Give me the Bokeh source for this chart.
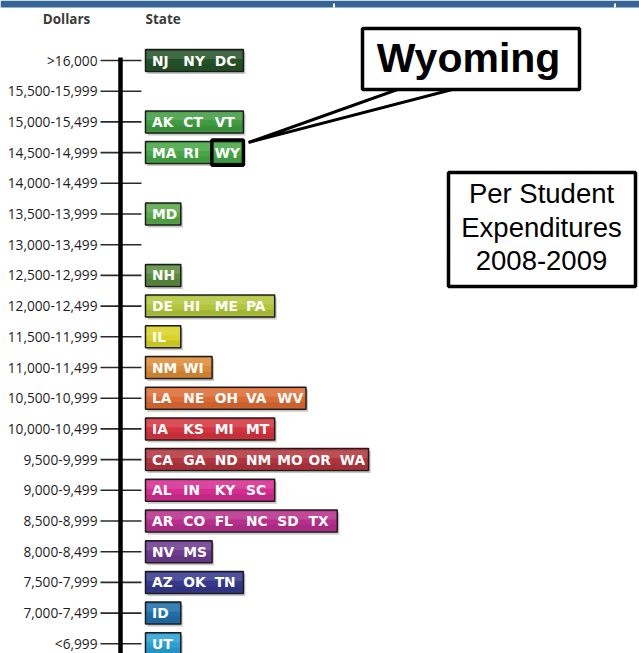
from bokeh.plotting import figure
from bokeh.models import Range1d
from bokeh.core.properties import value
from bokeh.embed import file_html
from bokeh.resources import INLINE

# ---------------- data ----------------
dollar_ranges = [">16,000", "15,500-15,999", "15,000-15,499", "14,500-14,999",
                 "14,000-14,499", "13,500-13,999", "13,000-13,499", "12,500-12,999",
                 "12,000-12,499", "11,500-11,999", "11,000-11,499", "10,500-10,999",
                 "10,000-10,499", "9,500-9,999", "9,000-9,499", "8,500-8,999",
                 "8,000-8,499", "7,500-7,999", "7,000-7,499", "<6,999"]
states = [["NJ", "NY", "DC"], [], ["AK", "CT", "VT"], ["MA", "RI", "WY"],
          [], ["MD"], [], ["NH"],
          ["DE", "HI", "ME", "PA"], ["IL"], ["NM", "WI"], ["LA", "NE", "OH", "VA", "WV"],
          ["IA", "KS", "MI", "MT"], ["CA", "GA", "ND", "NM", "MO", "OR", "WA"],
          ["AL", "IN", "KY", "SC"], ["AR", "CO", "FL", "NC", "SD", "TX"],
          ["NV", "MS"], ["AZ", "OK", "TN"], ["ID"], ["UT"]]
colors = ["#245227", None, "#3f9c40", "#45a646",
          None, "#58a847", None, "#5a8b3c",
          "#b2c63c", "#d9d327", "#dd8a36", "#dc6b33",
          "#d5343f", "#b3343c", "#d42d8f", "#b72e8c",
          "#6c3b8f", "#35398b", "#1f6fa9", "#2ba0d5"]
highlight_state = "WY"
title_lines = ["Per Student", "Expenditures", "2008-2009"]
callout = "Wyoming"

# ------------- layout helpers (reference pixel -> data units) -------------
ORIGIN_X, PITCH_X = 145.0, 31.3   # one x unit = one state slot
ROW0, PITCH_Y = 60.0, 30.7        # one y unit = one dollar bracket
W, H = 639, 653


def X(px):
    return (px - ORIGIN_X) / PITCH_X


def Y(py):
    return (py - ROW0) / PITCH_Y


p = figure(width=W, height=H,
           x_range=Range1d(X(0), X(W)), y_range=Range1d(Y(H), Y(0)),
           output_backend="svg", toolbar_location=None,
           x_axis_location=None, y_axis_location=None,
           min_border=0, outline_line_color=None, background_fill_color="white")
p.grid.visible = False

rows = list(range(len(dollar_ranges)))

# top banner
p.quad(left=[X(0)], right=[X(W)], top=[Y(0)], bottom=[Y(7)],
       fill_color="#346594", line_color=None)
p.quad(left=[X(332.5), X(613.5)], right=[X(334.5), X(615.5)], top=[Y(3), Y(3)],
       bottom=[Y(7), Y(7)], fill_color="white", line_color=None)

# ticks and the vertical spine
p.segment(x0=[X(100)] * len(rows), y0=rows, x1=[X(141)] * len(rows), y1=rows,
          line_color="#2a2a2a", line_width=1.6)
p.segment(x0=[X(120)], y0=[Y(57)], x1=[X(120)], y1=[Y(700)],
          line_color="black", line_width=4.5)

# dollar labels
p.text(x=[X(97)] * len(rows), y=rows, text=dollar_ranges,
       text_align="right", text_baseline="middle",
       text_font=value("Open Sans"), text_font_size="13.7px", text_color="#1e1e1e")

# headers
p.text(x=[X(66)], y=[Y(18.5)], text=["Dollars"], text_align="center",
       text_baseline="middle", text_font=value("Open Sans"),
       text_font_style="bold", text_font_size="13.5px", text_color="#3a3a3a")
p.text(x=[X(145)], y=[Y(18.5)], text=["State"], text_align="left",
       text_baseline="middle", text_font=value("Open Sans"),
       text_font_style="bold", text_font_size="13.5px", text_color="#3a3a3a")

# bars
bar_rows = [i for i in rows if states[i]]
counts = [len(states[i]) for i in bar_rows]
bar_cols = [colors[i] for i in bar_rows]
pad = 4.0 / PITCH_X
half = 11.0 / PITCH_Y
sx, sy = 2.0 / PITCH_X, 2.5 / PITCH_Y
rights = [c + pad for c in counts]

p.quad(left=[sx] * len(bar_rows), right=[r + sx for r in rights],
       top=[i - half + sy for i in bar_rows], bottom=[i + half + sy for i in bar_rows],
       fill_color="black", fill_alpha=0.22, line_color=None)
p.quad(left=[0] * len(bar_rows), right=rights,
       top=[i - half for i in bar_rows], bottom=[i + half for i in bar_rows],
       fill_color=bar_cols, line_color="#1c1c1c", line_width=1.5)
p.quad(left=[0.03] * len(bar_rows), right=[r - 0.03 for r in rights],
       top=[i - half + 0.05 for i in bar_rows], bottom=[i - 0.05 for i in bar_rows],
       fill_color="white", fill_alpha=0.13, line_color=None)
p.quad(left=[0.03] * len(bar_rows), right=[r - 0.03 for r in rights],
       top=[i + 0.12 for i in bar_rows], bottom=[i + half - 0.05 for i in bar_rows],
       fill_color="black", fill_alpha=0.08, line_color=None)

# state codes
tx, ty, tt = [], [], []
hx, hy, hr = None, None, None
for k, i in enumerate(bar_rows):
    for j, s in enumerate(states[i]):
        tx.append(j + 0.21)
        ty.append(i)
        tt.append(s)
        if s == highlight_state:
            hx, hy, hr = j, i, rights[k]
p.text(x=tx, y=ty, text=tt, text_align="left", text_baseline="middle",
       text_font=value("DejaVu Sans"), text_font_style="bold",
       text_font_size="13.8px", text_color="white")

# highlight box around WY
p.quad(left=[hx + 0.12], right=[hr], top=[hy - 0.41], bottom=[hy + 0.41],
       fill_alpha=0, line_color="black", line_width=3.5)

# callout tail and box
p.patch(x=[X(397), X(452), X(248)], y=[Y(89), Y(89), Y(142)],
        fill_color="white", line_color="black", line_width=3, line_join="miter")
p.quad(left=[X(362)], right=[X(579)], top=[Y(28)], bottom=[Y(89)],
       fill_color="white", line_color="black", line_width=3.5)
p.text(x=[X(468)], y=[Y(57)], text=[callout], text_align="center",
       text_baseline="middle", text_font=value("Liberation Sans"),
       text_font_style="bold", text_font_size="41px", text_color="black")

# title box
p.quad(left=[X(448)], right=[X(635)], top=[Y(172)], bottom=[Y(286)],
       fill_color="white", line_color="black", line_width=3.5)
p.text(x=[X(541)] * 3, y=[Y(193), Y(227), Y(260)], text=title_lines,
       text_align="center", text_baseline="middle",
       text_font=value("Liberation Sans"), text_font_size="27.5px", text_color="black")

open("out.html", "w").write(file_html(p, INLINE))
